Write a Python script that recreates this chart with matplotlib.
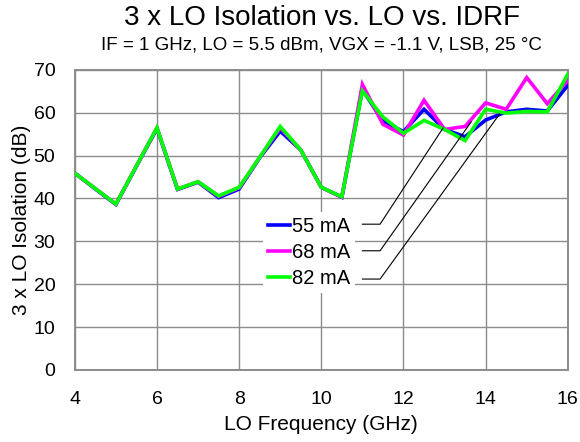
import matplotlib
matplotlib.use("Agg")
import matplotlib.pyplot as plt
from matplotlib.lines import Line2D

plt.rcParams['font.family'] = ['Liberation Sans', 'DejaVu Sans']

# LO frequency (GHz)
freq = [4, 4.5, 5, 5.5, 6, 6.5, 7, 7.5, 8, 8.5, 9, 9.5, 10, 10.5,
        11, 11.5, 12, 12.5, 13, 13.5, 14, 14.5, 15, 15.5, 16]

# 3 x LO isolation (dB) per IDRF
iso_55 = [45.9, 42.2, 38.6, 47.5, 56.3, 42.1, 43.8, 40.2, 42.2, 49.5, 55.7, 51.3, 42.6, 40.3,
          65.4, 58.0, 55.6, 60.8, 56.1, 54.4, 58.3, 60.2, 60.8, 60.4, 66.4]
iso_68 = [45.9, 42.3, 38.7, 47.6, 56.5, 42.2, 43.9, 40.5, 42.5, 49.6, 56.5, 51.3, 42.6, 40.3,
          66.6, 57.3, 54.8, 62.9, 56.1, 56.8, 62.3, 60.8, 68.2, 62.1, 67.5]
iso_82 = [45.9, 42.3, 38.7, 47.6, 56.5, 42.2, 43.9, 40.6, 42.6, 49.6, 56.8, 51.3, 42.6, 40.4,
          65.1, 59.0, 55.2, 58.2, 56.1, 53.5, 60.8, 59.9, 60.3, 60.2, 69.0]

labels = ['55 mA', '68 mA', '82 mA']
colors = ['#0000FF', '#FF00FF', '#00FF00']

fig = plt.figure(figsize=(5.8, 4.42), dpi=100)
ax = fig.add_axes([0.129, 0.163, 0.850, 0.679])

for ys, c in zip([iso_55, iso_68, iso_82], colors):
    ax.plot(freq, ys, color=c, lw=2.6, solid_joinstyle='miter', zorder=3)

ax.set_xlim(4, 16)
ax.set_ylim(0, 70)
ax.set_xticks(range(4, 17, 2))
ax.set_yticks(range(0, 71, 10))
ax.grid(True, color='#8c8c8c', lw=1.0)
ax.set_axisbelow(True)
ax.tick_params(length=0, labelsize=14)
ax.tick_params(axis='x', pad=15)
ax.tick_params(axis='y', pad=14)
for s in ax.spines.values():
    s.set_color('#8c8c8c')
    s.set_linewidth(1.4)

ax.set_xlabel('LO Frequency (GHz)', fontsize=15, labelpad=5)
ax.set_ylabel('3 x LO Isolation (dB)', fontsize=15, labelpad=2)

fig.text(0.555, 0.960, '3 x LO Isolation vs. LO vs. IDRF', ha='center', va='center', fontsize=20)
fig.text(0.555, 0.898, 'IF = 1 GHz, LO = 5.5 dBm, VGX = -1.1 V, LSB, 25 \u00b0C',
         ha='center', va='center', fontsize=13.5)

# legend with leader lines to the curves
handles = [Line2D([0], [0], color=c, lw=2.6) for c in colors]
leg = ax.legend(handles, labels, loc='upper left', bbox_to_anchor=(0.381, 0.527),
                fontsize=14.5, frameon=True, handlelength=1.1, handletextpad=0.1,
                labelspacing=0.36, borderpad=0.25, borderaxespad=0)
leg.get_frame().set_edgecolor('none')
leg.get_frame().set_facecolor('white')
leg.get_frame().set_alpha(1)
leg.set_zorder(4)

leader_y = [34.0, 27.8, 21.2]
leader_end = [(12.96, 56.4), (13.65, 57.9), (14.34, 59.7)]
for ly, (ex, ey) in zip(leader_y, leader_end):
    ax.plot([11.0, 11.43, ex], [ly, ly, ey], color='black', lw=0.8, zorder=5)

fig.savefig('out.png', dpi=100)
